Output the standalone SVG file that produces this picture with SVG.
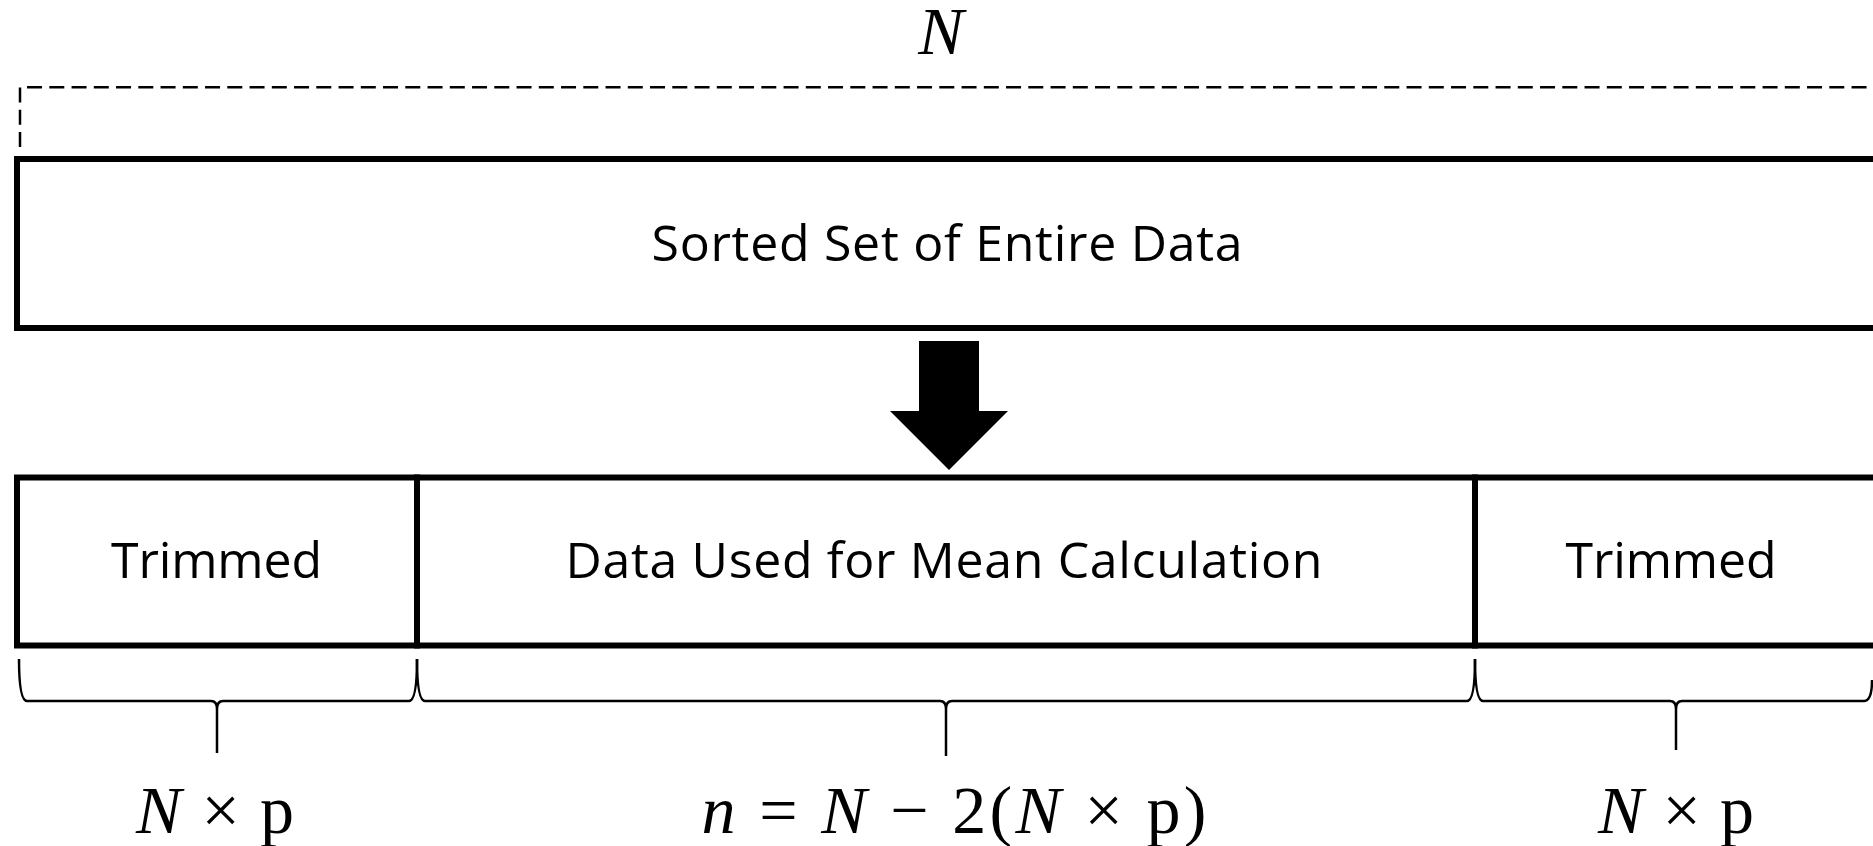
<svg xmlns="http://www.w3.org/2000/svg" width="1873" height="846" viewBox="0 0 1873 846">
<style>
.box{fill:#fff;stroke:#000;stroke-width:6}
.lbl{font-family:"Open Sans","Noto Sans",sans-serif;font-size:50px;fill:#000;text-anchor:middle}
.math{font-family:"Liberation Serif","Times New Roman",serif;font-size:68px;fill:#000;text-anchor:middle}
.brace{fill:none;stroke:#000;stroke-width:2.5}
</style>
<rect width="1873" height="846" fill="#fff"/>
<g id="span-N">
<path d="M20 147 L20 87.3 L1880 87.3" fill="none" stroke="#000" stroke-width="2.5" stroke-dasharray="15 7.25"/>
<text x="941" y="54" class="math" font-style="italic" font-size="60">N</text>
</g>
<g id="sorted-set">
<rect class="box" x="17" y="159" width="1860" height="169"/>
<text class="lbl" x="947" y="261" textLength="591">Sorted Set of Entire Data</text>
</g>
<g id="trimmed-left">
<rect class="box" x="17" y="477.5" width="400" height="168"/>
<text class="lbl" x="216.5" y="578" textLength="211">Trimmed</text>
</g>
<g id="data-used">
<rect class="box" x="417" y="477.5" width="1058" height="168"/>
<text class="lbl" x="944" y="578" textLength="757">Data Used for Mean Calculation</text>
</g>
<g id="trimmed-right">
<rect class="box" x="1475" y="477.5" width="402" height="168"/>
<text class="lbl" x="1671" y="578" textLength="211">Trimmed</text>
</g>
<g id="connectors">
<polygon points="919,341 979,341 979,411 1008,411 949,470 890,411 919,411" fill="#000"/>
<path class="brace" d="M19 659 Q19 701 27 701 L211 701 Q217 701 217 709 L217 753 M217 709 Q217 701 223 701 L409 701 Q417 701 417 659"/>
<path class="brace" d="M417 659 Q417 701 425 701 L940 701 Q946 701 946 709 L946 756 M946 709 Q946 701 952 701 L1467 701 Q1475 701 1475 659"/>
<path class="brace" d="M1475 659 Q1475 701 1483 701 L1670 701 Q1676 701 1676 709 L1676 750 M1676 709 Q1676 701 1682 701 L1864 701 Q1872 701 1872 680"/>
</g>
<g id="labels">
<text class="math" x="215" y="833" textLength="158"><tspan font-style="italic">N</tspan> × p</text>
<text class="math" x="954" y="833" textLength="505"><tspan font-style="italic">n</tspan> = <tspan font-style="italic">N</tspan> − 2(<tspan font-style="italic">N</tspan> × p)</text>
<text class="math" x="1676" y="833" textLength="156"><tspan font-style="italic">N</tspan> × p</text>
</g>
</svg>
